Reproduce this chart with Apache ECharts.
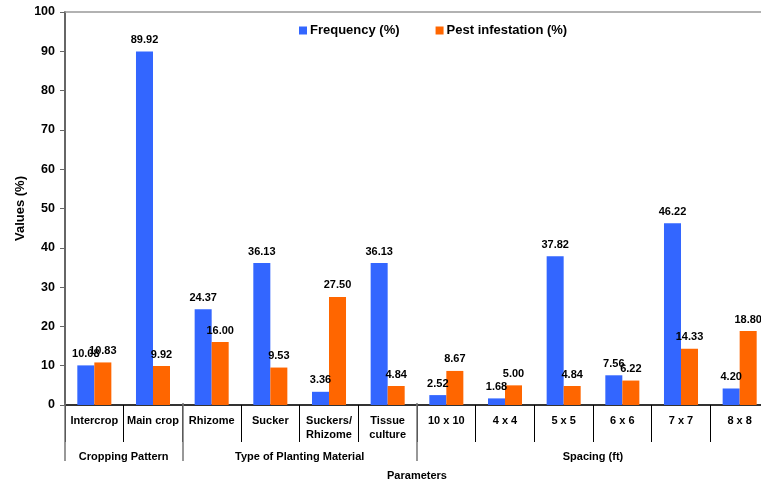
<!DOCTYPE html>
<html>
<head>
<meta charset="utf-8">
<script src="https://cdn.jsdelivr.net/npm/echarts@6/dist/echarts.min.js"></script>
<style>
  html, body { margin: 0; padding: 0; background: #fff; overflow: hidden; }
  #chart { width: 769px; height: 486px; }
</style>
</head>
<body>
<div id="chart"></div>
<script>
// Categories along the x axis
const categories = ['Intercrop', 'Main crop', 'Rhizome', 'Sucker', 'Suckers/\nRhizome', 'Tissue\nculture',
  '10 x 10', '4 x 4', '5 x 5', '6 x 6', '7 x 7', '8 x 8'];

// Series values (%)
const frequency = [10.08, 89.92, 24.37, 36.13, 3.36, 36.13, 2.52, 1.68, 37.82, 7.56, 46.22, 4.20];
const pestInfestation = [10.83, 9.92, 16.00, 9.53, 27.50, 4.84, 8.67, 5.00, 4.84, 6.22, 14.33, 18.80];

// Parameter groups: name and number of categories in each
const groupNames = ['Cropping Pattern', 'Type of Planting Material', 'Spacing (ft)'];
const groupSizes = [2, 4, 6];

// Group boundaries and centres in category units
const groupBounds = [0];
groupSizes.forEach(s => groupBounds.push(groupBounds[groupBounds.length - 1] + s));
const groupCentres = groupSizes.map((s, i) => groupBounds[i] + s / 2);

const FONT = 'Liberation Sans, Arial, sans-serif';
const chart = echarts.init(document.getElementById('chart'));

const labelStyle = {
  show: true,
  position: 'top',
  distance: 6,
  fontFamily: FONT,
  fontWeight: 'bold',
  fontSize: 11,
  color: '#000',
  formatter: p => p.value.toFixed(2)
};

chart.setOption({
  animation: false,
  legend: {
    top: 19,
    left: 294,
    itemWidth: 8,
    itemHeight: 8,
    itemGap: 36,
    icon: 'rect',
    textStyle: { fontFamily: FONT, fontWeight: 'bold', fontSize: 13, color: '#000', padding: [0, 0, 0, -2] },
    data: ['Frequency (%)', 'Pest infestation (%)']
  },
  grid: [
    { left: 65, right: 0, top: 12, bottom: 81 },
    { left: 65, right: 0, top: 12, bottom: 81 }
  ],
  xAxis: [
    {
      type: 'category',
      gridIndex: 0,
      position: 'bottom',
      data: categories,
      axisLine: { lineStyle: { color: '#333', width: 2 } },
      axisTick: { show: true, length: 37, lineStyle: { color: '#000', width: 1 } },
      axisLabel: {
        interval: 0, margin: 9,
        fontFamily: FONT, fontWeight: 'bold', fontSize: 11, color: '#000', lineHeight: 14
      },
      splitLine: { show: false }
    },
    {
      type: 'category',
      gridIndex: 0,
      position: 'top',
      data: categories,
      axisLine: { lineStyle: { color: '#999', width: 1.5 } },
      axisTick: { show: false },
      axisLabel: { show: false },
      splitLine: { show: false }
    },
    {
      type: 'value',
      gridIndex: 1,
      position: 'bottom',
      min: 0,
      max: categories.length,
      axisLine: { show: false },
      axisTick: { show: true, length: 58, customValues: groupBounds, lineStyle: { color: '#777', width: 1.5 } },
      axisLabel: {
        customValues: groupCentres,
        formatter: v => groupNames[groupCentres.indexOf(v)],
        margin: 48,
        fontFamily: FONT, fontWeight: 'bold', fontSize: 11, color: '#000'
      },
      splitLine: { show: false },
      name: 'Parameters',
      nameLocation: 'middle',
      nameGap: 67,
      nameMoveOverlap: false,
      nameTextStyle: { fontFamily: FONT, fontWeight: 'bold', fontSize: 11, color: '#000' }
    }
  ],
  yAxis: [
    {
      type: 'value',
      gridIndex: 0,
      min: 0,
      max: 100,
      interval: 10,
      axisLine: { show: true, lineStyle: { color: '#666', width: 2 } },
      axisTick: { show: true, length: 5, lineStyle: { color: '#666' } },
      axisLabel: { margin: 10, fontFamily: FONT, fontWeight: 'bold', fontSize: 12.5, color: '#000' },
      splitLine: { show: false },
      name: 'Values (%)',
      nameLocation: 'middle',
      nameGap: 38,
      nameMoveOverlap: false,
      nameTextStyle: { fontFamily: FONT, fontWeight: 'bold', fontSize: 13, color: '#000' }
    },
    {
      type: 'value',
      gridIndex: 1,
      min: 0,
      max: 100,
      show: false
    }
  ],
  series: [
    {
      name: 'Frequency (%)',
      type: 'bar',
      xAxisIndex: 0,
      yAxisIndex: 0,
      data: frequency,
      barGap: '0%',
      barCategoryGap: '42%',
      itemStyle: { color: '#3366FF' },
      label: labelStyle
    },
    {
      name: 'Pest infestation (%)',
      type: 'bar',
      xAxisIndex: 0,
      yAxisIndex: 0,
      data: pestInfestation,
      barGap: '0%',
      barCategoryGap: '42%',
      itemStyle: { color: '#FF6600' },
      label: labelStyle
    }
  ]
});
</script>
</body>
</html>
